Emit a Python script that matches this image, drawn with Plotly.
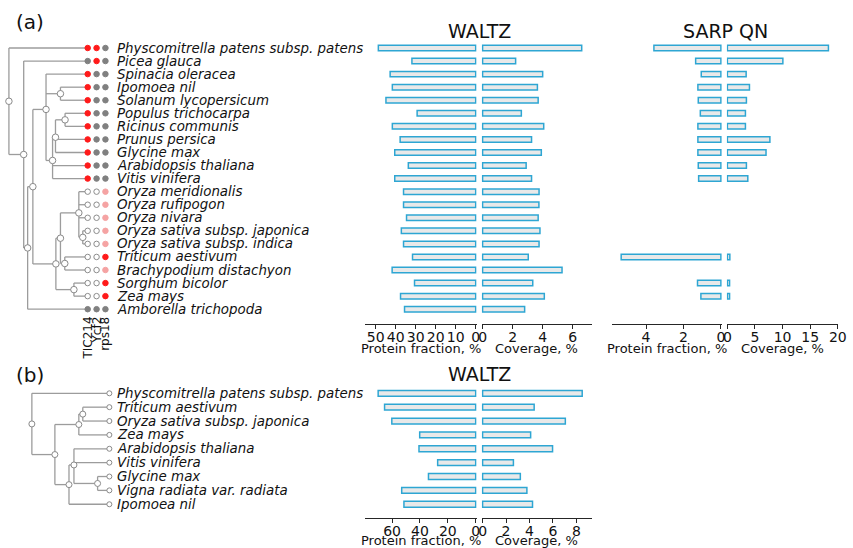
import plotly.graph_objects as go

W, H = 853, 548

# ---------------- data: panel (a) ----------------
species_a = [
    "Physcomitrella patens subsp. patens", "Picea glauca", "Spinacia oleracea",
    "Ipomoea nil", "Solanum lycopersicum", "Populus trichocarpa", "Ricinus communis",
    "Prunus persica", "Glycine max", "Arabidopsis thaliana", "Vitis vinifera",
    "Oryza meridionalis", "Oryza rufipogon", "Oryza nivara",
    "Oryza sativa subsp. japonica", "Oryza sativa subsp. indica", "Triticum aestivum",
    "Brachypodium distachyon", "Sorghum bicolor", "Zea mays", "Amborella trichopoda",
]
waltz_a_protein = [48.7, 31.9, 42.8, 41.7, 44.9, 29.3, 41.7, 37.8, 40.5, 33.7, 40.5,
                   36.1, 36.1, 34.6, 37.2, 36.1, 31.6, 41.8, 30.6, 37.6, 35.6]
waltz_a_coverage = [6.6, 2.2, 4.0, 3.65, 3.7, 2.58, 4.07, 3.26, 3.91, 2.9, 3.26,
                    3.76, 3.75, 3.7, 3.82, 3.76, 3.04, 5.29, 3.34, 4.11, 2.8]
sarp_protein = [3.58, 1.35, 1.05, 1.23, 1.21, 1.1, 1.23, 1.23, 1.23, 1.21, 1.19,
                None, None, None, None, None, 5.33, None, 1.25, 1.07, None]
sarp_coverage = [18.3, 10.05, 3.4, 4.0, 3.45, 3.27, 3.27, 7.7, 7.0, 3.45, 3.7,
                 None, None, None, None, None, 0.45, None, 0.4, 0.4, None]

genes = ["TIC214", "Ycf2", "rps18"]
# R = present (red), G = grey, O = absent (open), P = pale red
gene_status_a = ["RRG", "GRG", "RGG", "RGG", "RGG", "RGG", "RGG", "RGG", "RGG", "RGG", "RGG",
                 "OOP", "OOP", "OOP", "OOP", "OOP", "OOR", "OOP", "OOR", "OOR", "GGG"]

# tree: leaf = name, internal = (depth, [children]); tips sit at depth 1
tree_a = (0.0, [
    "Physcomitrella patens subsp. patens",
    (0.1875, [
        "Picea glauca",
        (0.2375, [
            (0.304, [
                (0.471, [
                    "Spinacia oleracea",
                    (0.654, ["Ipomoea nil", "Solanum lycopersicum"]),
                    (0.554, [
                        (0.591, [
                            (0.7125, ["Populus trichocarpa", "Ricinus communis"]),
                            "Prunus persica", "Glycine max",
                        ]),
                        "Arabidopsis thaliana", "Vitis vinifera",
                    ]),
                ]),
                (0.596, [
                    (0.654, [
                        (0.8875, [
                            "Oryza meridionalis", "Oryza rufipogon", "Oryza nivara",
                            (0.9375, ["Oryza sativa subsp. japonica", "Oryza sativa subsp. indica"]),
                        ]),
                        (0.709, ["Triticum aestivum", "Brachypodium distachyon"]),
                    ]),
                    (0.825, ["Sorghum bicolor", "Zea mays"]),
                ]),
            ]),
            "Amborella trichopoda",
        ]),
    ]),
])

# ---------------- data: panel (b) ----------------
species_b = [
    "Physcomitrella patens subsp. patens", "Triticum aestivum", "Oryza sativa subsp. japonica",
    "Zea mays", "Arabidopsis thaliana", "Vitis vinifera", "Glycine max",
    "Vigna radiata var. radiata", "Ipomoea nil",
]
waltz_b_protein = [70.0, 65.4, 60.2, 40.2, 40.7, 27.3, 33.9, 53.1, 51.5]
waltz_b_coverage = [8.5, 4.4, 7.06, 4.1, 5.97, 2.63, 3.22, 3.78, 4.26]

tree_b = (0.0, [
    "Physcomitrella patens subsp. patens",
    (0.297, [
        (0.606, [
            (0.657, ["Triticum aestivum", "Oryza sativa subsp. japonica"]),
            "Zea mays",
        ]),
        (0.479, [
            (0.543, [
                "Arabidopsis thaliana", "Vitis vinifera",
                (0.848, ["Glycine max", "Vigna radiata var. radiata"]),
            ]),
            "Ipomoea nil",
        ]),
    ]),
])

ticks_a_protein = [0, 10, 20, 30, 40, 50]
ticks_a_coverage = [0, 2, 4, 6]
ticks_sarp_protein = [0, 2, 4]
ticks_sarp_coverage = [0, 5, 10, 15, 20]
ticks_b_protein = [0, 20, 40, 60]
ticks_b_coverage = [0, 2, 4, 6, 8]

# ---------------- styling ----------------
FONT = "DejaVu Sans"
TXT = "#111111"
BAR_FILL = "#e9e9e9"
BAR_EDGE = "#2ea6d3"
TREE_LINE = "#9c9c9c"
DOT_COLORS = {"R": "#ff1a1a", "G": "#808080", "O": "#ffffff", "P": "#f5a3a3"}
DOT_EDGES = {"R": "#ff1a1a", "G": "#808080", "O": "#8c8c8c", "P": "#f5a3a3"}

# pixel geometry of the rows
ROW0_A, STEP_A = 48.0, 13.06
ROW0_B, STEP_B = 393.3, 13.87


def row_range(row0, step):
    return [(H - row0) / step, -row0 / step]


def px_x(p):
    return p / W


def px_y(p):
    return 1 - p / H


def tree_segments(tree, order):
    xs, ys, nx, ny = [], [], [], []

    def walk(node, parent_depth):
        if isinstance(node, str):
            y = order.index(node)
            d = 1.0
        else:
            d, kids = node
            kid_y = [walk(k, d) for k in kids]
            y = sum(kid_y) / len(kid_y)
            xs.extend([d, d, None])
            ys.extend([min(kid_y), max(kid_y), None])
            nx.append(d)
            ny.append(y)
        if parent_depth is not None:
            xs.extend([parent_depth, d, None])
            ys.extend([y, y, None])
        return y

    walk(tree, None)
    return xs, ys, nx, ny


fig = go.Figure()

# ---- panel (a) tree ----
lx, ly, nx, ny = tree_segments(tree_a, species_a)
fig.add_trace(go.Scatter(x=lx, y=ly, mode="lines", line=dict(color=TREE_LINE, width=1.3),
                         xaxis="x", yaxis="y", hoverinfo="skip", showlegend=False))
fig.add_trace(go.Scatter(x=nx, y=ny, mode="markers",
                         marker=dict(symbol="circle", size=6.5, color="white",
                                     line=dict(color="#8a8a8a", width=1)),
                         xaxis="x", yaxis="y", hoverinfo="skip", showlegend=False))

# gene presence dots
gene_cols = [1.0, 1.1125, 1.225]
dx, dy, dc, de = [], [], [], []
for i, status in enumerate(gene_status_a):
    for k, s in enumerate(status):
        dx.append(gene_cols[k])
        dy.append(i)
        dc.append(DOT_COLORS[s])
        de.append(DOT_EDGES[s])
fig.add_trace(go.Scatter(x=dx, y=dy, mode="markers",
                         marker=dict(symbol="circle", size=5.5, color=dc,
                                     line=dict(color=de, width=1)),
                         xaxis="x", yaxis="y", hoverinfo="skip", showlegend=False))

# ---- panel (b) tree ----
lx, ly, nx, ny = tree_segments(tree_b, species_b)
fig.add_trace(go.Scatter(x=lx, y=ly, mode="lines", line=dict(color=TREE_LINE, width=1.3),
                         xaxis="x2", yaxis="y2", hoverinfo="skip", showlegend=False))
fig.add_trace(go.Scatter(x=nx, y=ny, mode="markers",
                         marker=dict(symbol="circle", size=6, color="white",
                                     line=dict(color="#8a8a8a", width=1)),
                         xaxis="x2", yaxis="y2", hoverinfo="skip", showlegend=False))
fig.add_trace(go.Scatter(x=[1.0] * len(species_b), y=list(range(len(species_b))), mode="markers",
                         marker=dict(symbol="circle", size=5, color="white",
                                     line=dict(color="#8a8a8a", width=1)),
                         xaxis="x2", yaxis="y2", hoverinfo="skip", showlegend=False))


# ---- bars ----
def add_bars(values, xaxis, yaxis):
    fig.add_trace(go.Bar(x=values, y=list(range(len(values))), orientation="h", width=0.42,
                         marker=dict(color=BAR_FILL, line=dict(color=BAR_EDGE, width=1.5)),
                         xaxis=xaxis, yaxis=yaxis, hoverinfo="skip", showlegend=False))


add_bars(waltz_a_protein, "x3", "y")
add_bars(waltz_a_coverage, "x4", "y")
add_bars(sarp_protein, "x5", "y")
add_bars(sarp_coverage, "x6", "y")
add_bars(waltz_b_protein, "x7", "y2")
add_bars(waltz_b_coverage, "x8", "y2")


def bar_axis(lo, hi, rng, ticks, axis_y):
    return dict(domain=[px_x(lo), px_x(hi)], range=rng, anchor="free", position=px_y(axis_y),
                showline=True, linecolor="#262626", linewidth=1, ticks="outside", ticklen=4,
                tickwidth=1, tickcolor="#262626", tickvals=ticks, ticklabelstandoff=-4,
                tickfont=dict(family=FONT, size=14, color=TXT),
                showgrid=False, zeroline=False, fixedrange=True)


hidden = dict(visible=False, showgrid=False, zeroline=False, fixedrange=True)

fig.update_layout(
    width=W, height=H, autosize=False,
    margin=dict(l=0, r=0, t=0, b=0),
    paper_bgcolor="white", plot_bgcolor="rgba(0,0,0,0)",
    barmode="overlay", showlegend=False,
    xaxis=dict(domain=[0, px_x(375)], range=[-5 / 80, 370 / 80], anchor="y", **hidden),
    yaxis=dict(domain=[0, 1], range=row_range(ROW0_A, STEP_A), anchor="x", **hidden),
    xaxis2=dict(domain=[0, px_x(375)], range=[-28.3 / 78.7, (375 - 28.3) / 78.7],
                anchor="y2", **hidden),
    yaxis2=dict(domain=[0, 1], range=row_range(ROW0_B, STEP_B), anchor="x2", **hidden),
    xaxis3=bar_axis(367, 480, [(479 - 367) / 2.03, -1 / 2.03], ticks_a_protein, 324),
    xaxis4=bar_axis(485, 597, [-1 / 15.25, (597 - 486) / 15.25], ticks_a_coverage, 324),
    xaxis5=bar_axis(617, 729, [(728 - 617) / 19.0, -1 / 19.0], ticks_sarp_protein, 324),
    xaxis6=bar_axis(734, 847, [-0.1, 20.05], ticks_sarp_coverage, 324),
    xaxis7=bar_axis(367, 480, [(479 - 367) / 1.415, -1 / 1.415], ticks_b_protein, 518),
    xaxis8=bar_axis(485, 597, [-1 / 11.9, (597 - 486) / 11.9], ticks_b_coverage, 518),
)

ann = []
for i, name in enumerate(species_a):
    ann.append(dict(x=1.35, y=i, xref="x", yref="y", text=name, showarrow=False,
                    xanchor="left", yanchor="middle",
                    font=dict(family=FONT, size=13.4, style="italic", color=TXT)))
for j, name in enumerate(species_b):
    ann.append(dict(x=1.076, y=j, xref="x2", yref="y2", text=name, showarrow=False,
                    xanchor="left", yanchor="middle",
                    font=dict(family=FONT, size=13.4, style="italic", color=TXT)))
for k, g in enumerate(genes):
    ann.append(dict(x=gene_cols[k], y=20.4, xref="x", yref="y", text=g, showarrow=False,
                    textangle=-90, xanchor="center", yanchor="top",
                    font=dict(family=FONT, size=12, color=TXT)))


def paper_text(text, xp, yp, size, anchor="center"):
    ann.append(dict(x=px_x(xp), y=px_y(yp), xref="paper", yref="paper", text=text,
                    showarrow=False, xanchor=anchor, yanchor="middle",
                    font=dict(family=FONT, size=size, color=TXT)))


paper_text("(a)", 10, 22, 20, "left")
paper_text("(b)", 10, 375, 20, "left")
paper_text("WALTZ", 483, 31, 19)
paper_text("SARP QN", 733, 31, 19)
paper_text("WALTZ", 483, 374, 19)
for lo, hi, ay, label in [(367, 480, 348, "Protein fraction, %"), (485, 597, 348, "Coverage, %"),
                          (617, 729, 348, "Protein fraction, %"), (734, 847, 348, "Coverage, %"),
                          (367, 480, 540, "Protein fraction, %"), (485, 597, 540, "Coverage, %")]:
    paper_text(label, (lo + hi) / 2, ay, 13)

fig.update_layout(annotations=ann)
fig.write_html("out.html")
